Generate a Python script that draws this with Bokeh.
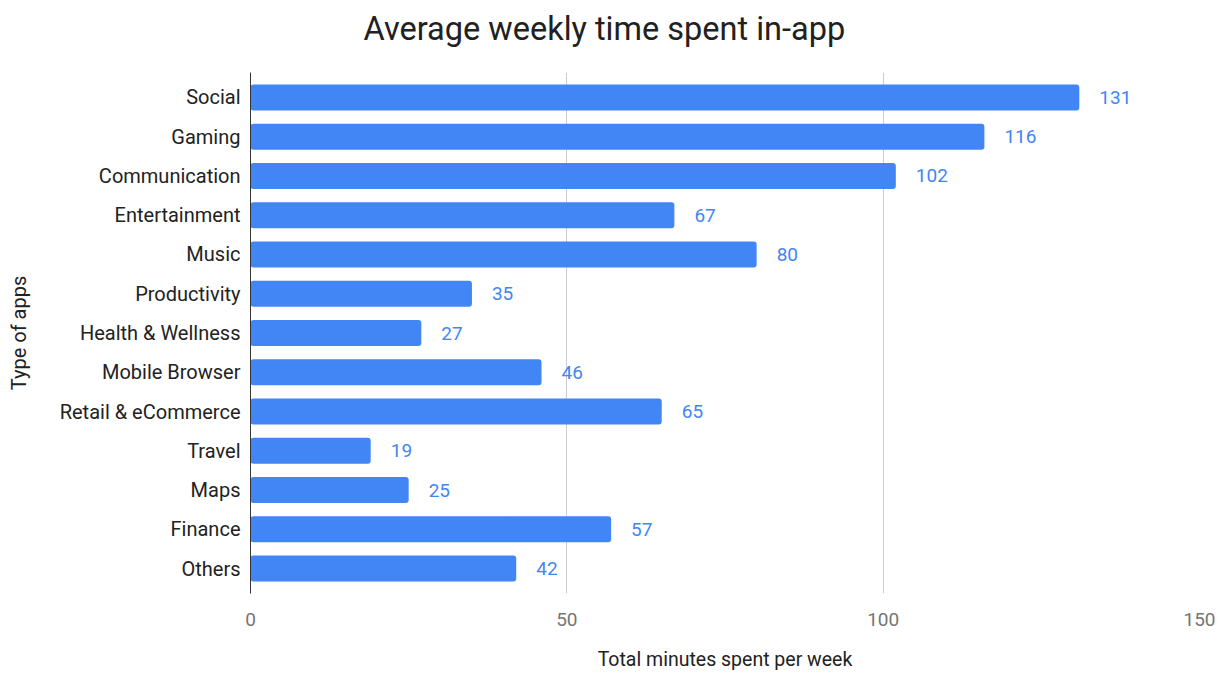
from bokeh.plotting import figure
from bokeh.models import FactorRange, Range1d, ColumnDataSource, FixedTicker, Title
from bokeh.core.properties import value
from bokeh.embed import file_html
from bokeh.resources import INLINE

categories = ["Social", "Gaming", "Communication", "Entertainment", "Music",
              "Productivity", "Health & Wellness", "Mobile Browser",
              "Retail & eCommerce", "Travel", "Maps", "Finance", "Others"]
minutes = [131, 116, 102, 67, 80, 35, 27, 46, 65, 19, 25, 57, 42]
x_ticks = [0, 50, 100, 150]
title_text = "Average weekly time spent in-app"

BLUE = "#4285F4"
FONT = "Roboto"

src = ColumnDataSource(dict(cat=categories, val=minutes,
                            lbl=[str(v) for v in minutes]))

p = figure(width=1222, height=674, output_backend="svg", toolbar_location=None,
           y_range=FactorRange(factors=categories[::-1], range_padding=0.135,
                               range_padding_units="absolute"),
           x_range=Range1d(0, 150),
           min_border_left=250, min_border_right=23,
           min_border_top=72, min_border_bottom=81)

# thin spacer panel directly above the frame
p.add_layout(Title(text=" ", text_font_size="1px", standoff=10), "above")

# main title (outermost panel)
p.title.text = title_text
p.title.align = "left"
p.title.offset = 113
p.title.vertical_align = "top"
p.title.standoff = 19
p.title.text_font = FONT
p.title.text_font_size = "32.5px"
p.title.text_font_style = "normal"
p.title.text_color = "#212121"

p.hbar(y="cat", right="val", left=0, height=0.66, source=src,
       fill_color=BLUE, line_color=None, border_radius=3)

p.text(x="val", y="cat", text="lbl", source=src, x_offset=20,
       text_baseline="middle", text_align="left", text_color=BLUE,
       text_font=value(FONT), text_font_size="19px")

p.outline_line_color = None
p.ygrid.grid_line_color = None
p.xgrid.grid_line_color = "#cccccc"
p.xgrid.ticker = FixedTicker(ticks=x_ticks)

p.xaxis.ticker = FixedTicker(ticks=x_ticks)
p.xaxis.axis_line_color = None
p.xaxis.major_tick_line_color = None
p.xaxis.minor_tick_line_color = None
p.xaxis.major_tick_out = 0
p.xaxis.major_tick_in = 0
p.xaxis.major_label_standoff = 19
p.xaxis.major_label_text_font = FONT
p.xaxis.major_label_text_font_size = "19px"
p.xaxis.major_label_text_color = "#757575"
p.xaxis.axis_label = "Total minutes spent per week"
p.xaxis.axis_label_text_font = FONT
p.xaxis.axis_label_text_font_size = "19.5px"
p.xaxis.axis_label_text_font_style = "normal"
p.xaxis.axis_label_text_color = "#222222"
p.xaxis.axis_label_standoff = 19

p.yaxis.axis_line_color = "#333333"
p.yaxis.major_tick_line_color = None
p.yaxis.minor_tick_line_color = None
p.yaxis.major_tick_out = 0
p.yaxis.major_tick_in = 0
p.yaxis.major_label_standoff = 10
p.yaxis.major_label_text_font = FONT
p.yaxis.major_label_text_font_size = "20px"
p.yaxis.major_label_text_color = "#222222"
p.yaxis.axis_label = "Type of apps"
p.yaxis.axis_label_text_font = FONT
p.yaxis.axis_label_text_font_size = "20px"
p.yaxis.axis_label_text_font_style = "normal"
p.yaxis.axis_label_text_color = "#222222"
p.yaxis.axis_label_standoff = 26

open("out.html", "w").write(file_html(p, INLINE))
